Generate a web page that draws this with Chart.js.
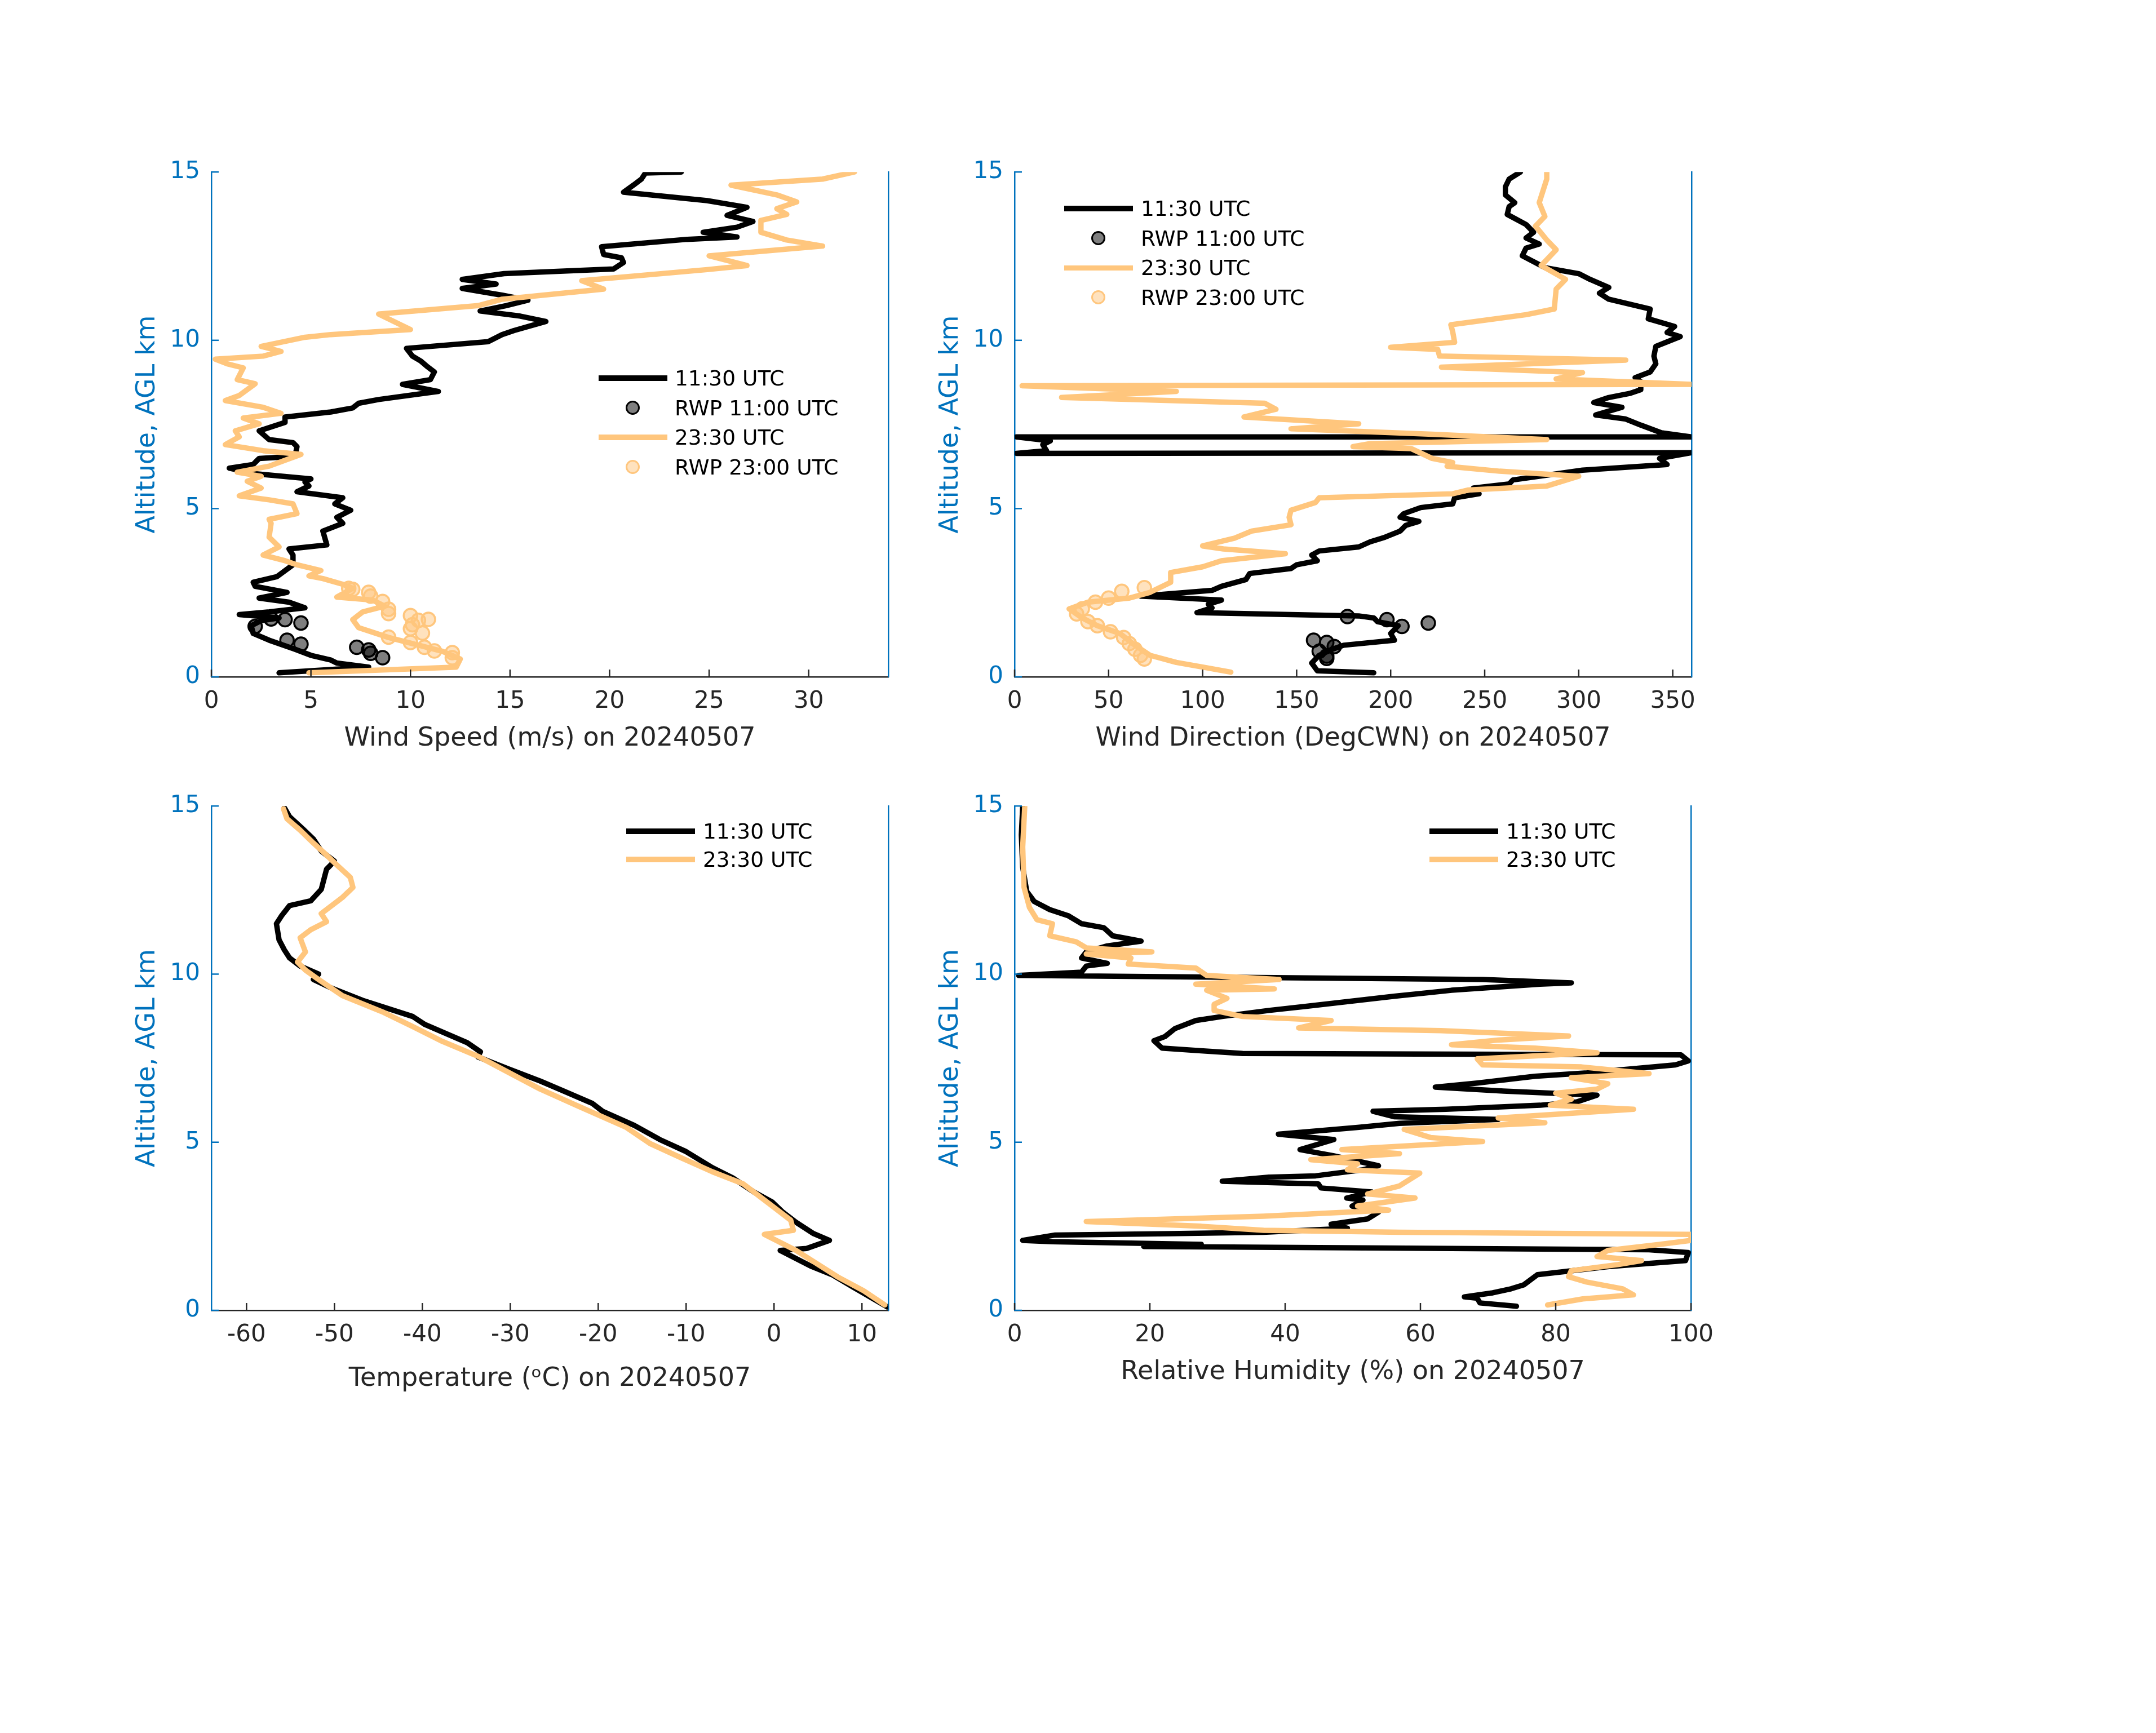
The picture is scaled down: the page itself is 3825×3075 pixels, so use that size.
<!DOCTYPE html>
<html>
<head>
<meta charset="utf-8">
<title>Sounding profiles 20240507</title>
<script src="https://cdn.jsdelivr.net/npm/chart.js@4.4.1/dist/chart.umd.min.js"></script>
<style>
  html, body { margin: 0; padding: 0; background: #fff; }
  #page { position: relative; width: 3825px; height: 3075px; overflow: hidden; font-family: "DejaVu Sans", sans-serif; }
  .panel { position: absolute; }
  .legend { position: absolute; font-size: 37.5px; color: #000; }
  .legend .row { position: absolute; left: 0; height: 50px; white-space: nowrap; }
  .legend .swatch { position: absolute; top: 50%; }
  .legend .text { position: absolute; top: 0; line-height: 50px; }
</style>
</head>
<body>
<div id="page">
  <div class="panel" id="p1"><canvas id="c1"></canvas></div>
  <div class="panel" id="p2"><canvas id="c2"></canvas></div>
  <div class="panel" id="p3"><canvas id="c3"></canvas></div>
  <div class="panel" id="p4"><canvas id="c4"></canvas></div>
</div>
<script>
// ---- tick labels ----
const altTicks = [0, 5, 10, 15];
const wsTicks = [0, 5, 10, 15, 20, 25, 30];
const wdTicks = [0, 50, 100, 150, 200, 250, 300, 350];
const tTicks = [-60, -50, -40, -30, -20, -10, 0, 10];
const rhTicks = [0, 20, 40, 60, 80, 100];

// ---- wind speed (m/s) ----
const wsAlt1130 = [0.12,0.29,0.41,0.50,0.64,0.82,1.09,1.29,1.52,1.67,
  1.75,1.85,1.93,2.05,2.22,2.34,2.51,2.69,2.81,2.98,
  3.33,3.62,3.80,3.92,4.33,4.56,4.74,4.95,5.14,5.32,
  5.50,5.67,5.79,5.88,6.04,6.20,6.31,6.49,6.55,6.84,
  6.96,7.05,7.31,7.56,7.72,7.87,7.99,8.13,8.24,8.48,
  8.69,8.83,9.06,9.24,9.39,9.53,9.76,9.96,10.17,10.29,
  10.56,10.72,10.87,11.03,11.19,11.34,11.54,11.67,11.81,11.98,
  12.12,12.31,12.45,12.55,12.78,13.00,13.07,13.21,13.36,13.53,
  13.71,13.95,14.15,14.40,14.61,14.79,14.97,15.00];
const ws1130 = [3.4,7.9,6.3,6.0,5.0,4.2,2.9,2.1,2.0,2.5,
  3.4,1.4,2.9,4.7,3.9,2.4,3.8,2.2,2.1,3.3,
  4.1,4.1,3.9,5.8,5.6,6.6,6.3,7.0,6.2,6.6,
  4.3,4.9,4.7,5.0,2.1,0.9,2.1,2.4,4.2,4.3,
  4.1,2.9,2.4,3.7,3.7,6.0,7.1,7.4,8.4,11.4,
  9.6,11.0,11.2,10.8,10.5,10.1,9.8,13.9,14.6,15.2,
  16.8,15.5,13.5,14.8,15.9,14.6,12.6,14.3,12.6,14.7,
  20.2,20.7,20.6,19.7,19.6,23.9,26.4,24.7,26.4,27.2,
  25.9,26.9,24.9,20.7,21.2,21.6,21.8,23.6];
const rwpWsAlt1100 = [1.50,1.72,1.70,1.60,1.09,0.97,0.88,0.80,0.70,0.57];
const rwpWs1100 = [2.2,3.0,3.7,4.5,3.8,4.5,7.3,7.9,8.0,8.6];
const wsAlt2330 = [0.12,0.29,0.53,0.76,0.88,1.17,1.46,1.70,1.93,2.10,
  2.28,2.37,2.63,2.75,2.92,3.00,3.16,3.33,3.45,3.62,
  3.86,4.15,4.56,4.68,4.85,5.14,5.26,5.38,5.61,5.81,
  5.96,6.08,6.26,6.61,6.72,6.90,7.13,7.31,7.52,7.69,
  7.83,8.01,8.21,8.36,8.71,8.83,9.18,9.30,9.44,9.53,
  9.67,9.82,10.09,10.17,10.32,10.52,10.78,11.03,11.22,11.52,
  11.77,12.10,12.22,12.51,12.80,12.98,13.21,13.56,13.74,13.91,
  14.11,14.32,14.61,14.79,15.00];
const ws2330 = [4.9,12.3,12.5,11.6,10.8,8.9,7.4,7.1,7.6,8.7,
  8.1,6.3,7.1,6.6,5.6,4.9,5.5,4.3,3.7,2.6,
  3.4,2.9,3.0,2.9,4.3,4.1,2.9,1.4,2.5,1.8,
  2.5,1.3,2.9,4.5,2.6,0.7,1.4,1.2,2.4,1.6,
  3.5,2.6,0.7,1.4,2.2,1.3,1.6,0.8,0.2,2.6,
  3.5,2.5,4.7,6.0,10.0,9.3,8.4,13.4,14.6,19.7,
  18.6,24.9,26.9,25.0,30.7,28.9,27.6,27.6,28.9,28.4,
  29.4,28.4,26.1,30.7,32.3];
const rwpWsAlt2300 = [2.63,2.60,2.51,2.40,2.24,2.01,1.88,1.82,1.71,1.68,
  1.55,1.43,1.30,1.18,1.02,0.88,0.77,0.72,0.57];
const rwpWs2300 = [6.9,7.1,7.9,8.0,8.6,8.9,8.9,10.0,10.9,10.4,
  10.1,10.0,10.6,8.9,10.0,10.7,11.2,12.1,12.1];

// ---- wind direction (deg) ----
const wdAlt1130 = [0.12,0.18,0.41,0.64,0.82,0.94,1.09,1.29,1.52,1.64,
  1.75,1.81,1.91,2.05,2.16,2.28,2.40,2.57,2.69,2.89,
  3.07,3.22,3.33,3.45,3.62,3.74,3.86,4.01,4.15,4.33,
  4.50,4.62,4.74,4.85,5.03,5.14,5.32,5.44,5.61,5.73,
  5.85,6.14,6.31,6.49,6.66,6.64,6.72,6.90,7.01,7.13,
  7.13,7.25,7.48,7.66,7.78,8.01,8.15,8.30,8.42,8.53,
  8.77,8.89,9.06,9.30,9.53,9.82,10.11,10.23,10.41,10.64,
  10.93,11.22,11.40,11.57,11.81,11.98,12.16,12.51,12.74,12.86,
  13.04,13.21,13.44,13.74,13.97,14.09,14.32,14.56,14.79,15.00];
const wd1130 = [191,161,158,162,169,175,202,200,204,193,
  191,183,97,105,103,110,67,105,110,123,
  125,147,150,161,158,162,183,189,197,205,
  208,215,205,207,216,233,234,247,244,263,
  265,302,347,343,360,1,17,15,19,1,
  360,344,333,325,309,323,308,316,327,333,
  333,330,338,341,340,341,354,347,351,337,
  338,316,311,316,306,300,282,270,272,279,
  272,276,272,262,263,266,261,261,263,269];
const rwpWdAlt1100 = [1.79,1.70,1.50,1.60,1.09,1.02,0.90,0.76,0.62,0.55];
const rwpWd1100 = [177,198,206,220,159,166,170,162,166,166];
const wdAlt2330 = [0.14,0.29,0.43,0.64,0.94,1.29,1.52,1.75,2.02,2.22,
  2.34,2.51,2.81,3.10,3.27,3.45,3.66,3.80,3.89,4.12,
  4.33,4.52,4.74,4.95,5.18,5.32,5.44,5.55,5.67,5.96,
  6.11,6.26,6.37,6.49,6.78,6.84,6.93,7.05,7.21,7.37,
  7.52,7.72,7.95,8.13,8.30,8.48,8.65,8.69,8.85,9.04,
  9.20,9.41,9.53,9.73,9.79,9.94,10.25,10.46,10.76,10.93,
  11.52,11.81,12.22,12.69,12.98,13.39,13.68,14.09,14.79,15.00];
const wd2330 = [115,100,86,72,64,56,44,36,29,39,
  61,72,83,83,100,110,144,111,100,117,
  126,147,146,147,160,162,233,241,283,300,
  258,230,233,222,211,180,189,283,222,147,
  183,122,139,133,25,86,4,360,288,302,
  227,325,226,225,200,234,233,232,272,287,
  288,293,280,288,283,277,282,279,283,283];
const rwpWdAlt2300 = [2.65,2.54,2.34,2.22,2.02,1.87,1.64,1.52,1.34,1.17,0.99,0.82,0.64,0.53];
const rwpWd2300 = [69,57,50,43,36,33,39,44,51,58,61,64,67,69];

// ---- temperature (C) ----
const tAlt1130 = [0.10,0.69,1.06,1.30,1.78,1.84,2.08,2.28,2.62,2.92,
  3.22,3.52,3.94,4.24,4.72,5.08,5.50,5.92,6.16,6.52,
  6.82,7.18,7.54,7.69,7.96,8.50,8.74,9.22,9.58,9.84,
  10.00,10.24,10.48,10.72,11.02,11.50,11.74,12.04,12.18,12.52,
  12.82,13.12,13.36,13.66,14.02,14.32,14.68,14.95];
const t1130 = [12.9,9.0,6.6,4.3,0.7,3.7,6.3,4.5,2.5,1.0,
  -0.2,-2.3,-4.7,-7.0,-10.0,-13.0,-15.9,-19.5,-20.7,-23.9,
  -26.6,-30.2,-33.7,-33.4,-34.9,-39.7,-41.1,-46.8,-50.3,-52.4,
  -51.8,-53.9,-55.1,-55.7,-56.3,-56.6,-56.0,-55.1,-52.7,-51.5,
  -51.2,-50.9,-50.0,-51.5,-52.4,-53.6,-55.1,-55.7];
const tAlt2330 = [0.16,0.58,1.00,1.78,2.26,2.38,2.68,3.10,3.76,4.12,
  4.54,4.96,5.44,6.10,6.58,7.56,8.02,8.44,8.86,9.36,
  9.84,10.12,10.36,10.66,11.08,11.32,11.56,11.80,12.28,12.58,
  12.88,13.24,13.54,13.90,14.28,14.62,14.92];
const t2330 = [12.6,10.2,7.2,2.5,-1.1,2.2,1.9,-0.2,-3.5,-7.0,
  -10.6,-14.1,-16.8,-22.5,-26.6,-33.7,-37.9,-41.1,-44.4,-49.1,
  -51.8,-53.3,-54.2,-53.3,-53.9,-52.7,-50.9,-51.5,-49.1,-47.9,
  -48.2,-49.7,-50.9,-52.4,-53.9,-55.4,-55.8];

// ---- relative humidity (%) ----
const rhAlt1130 = [0.12,0.22,0.36,0.40,0.52,0.64,0.76,1.06,1.30,1.48,
  1.72,1.80,1.90,1.96,2.04,2.08,2.24,2.28,2.32,2.44,
  2.56,2.72,2.92,3.10,3.28,3.34,3.52,3.64,3.76,3.84,
  3.96,4.00,4.18,4.30,4.60,4.78,5.08,5.24,5.44,5.56,
  5.68,5.76,5.92,5.98,6.10,6.20,6.40,6.52,6.64,6.76,
  6.96,7.06,7.30,7.42,7.60,7.64,7.72,7.80,8.02,8.14,
  8.38,8.62,8.74,8.92,9.04,9.34,9.52,9.70,9.74,9.84,
  9.96,10.06,10.24,10.32,10.48,10.66,10.84,10.98,11.14,11.38,
  11.50,11.74,11.92,12.16,12.46,13.18,14.14,14.98];
const rh1130 = [74.2,68.8,68.4,66.5,70.7,73.4,75.3,77.3,87.7,99.2,
  99.6,93.8,19.1,27.6,5.6,1.2,6.0,23.0,36.8,49.2,
  46.8,52.2,53.8,49.9,51.5,49.1,52.8,45.3,44.9,30.7,
  37.6,44.5,51.5,53.8,47.1,42.2,47.2,39.0,50.7,56.9,
  71.5,56.1,53.0,63.8,77.7,83.1,86.1,72.3,62.2,68.4,
  76.9,84.6,97.7,99.6,98.5,33.7,27.6,21.8,20.6,22.2,
  23.7,26.8,30.7,37.6,43.0,56.1,64.6,77.7,82.3,69.2,
  0.6,9.9,10.6,13.7,9.9,10.6,13.7,18.7,14.5,13.2,
  9.9,7.9,5.2,2.9,1.8,1.2,1.0,1.2];
const rhAlt2330 = [0.16,0.34,0.46,0.64,0.84,1.00,1.18,1.36,1.48,1.60,
  1.78,1.96,2.08,2.26,2.32,2.38,2.50,2.64,2.80,2.98,
  3.10,3.34,3.46,3.70,4.08,4.18,4.36,4.48,4.66,4.78,
  5.02,5.14,5.38,5.58,5.72,5.98,6.10,6.28,6.46,6.58,
  6.74,6.92,7.04,7.24,7.30,7.48,7.66,7.80,7.90,8.04,
  8.16,8.32,8.40,8.62,8.74,8.92,9.10,9.28,9.52,9.56,
  9.70,9.84,9.96,10.18,10.30,10.48,10.60,10.66,10.78,10.96,
  11.14,11.50,11.62,11.98,12.58,13.78,14.98];
const rh2330 = [78.8,84.0,91.5,89.9,84.6,81.9,82.3,89.2,92.7,86.1,
  87.7,95.4,100,100,56.9,36.8,27.6,10.6,36.8,55.3,
  50.7,59.2,52.2,56.9,59.9,49.2,50.7,43.8,56.9,48.4,
  69.2,61.5,57.6,78.4,71.5,91.5,79.2,82.3,80.0,86.1,
  87.7,82.3,93.8,83.8,69.2,68.4,86.1,76.9,64.6,71.5,
  81.9,63.0,42.0,46.8,33.7,29.5,29.5,31.4,28.4,38.4,
  26.8,39.1,28.4,26.8,16.8,17.2,10.6,20.3,10.6,9.1,
  5.2,5.6,3.3,2.2,1.4,1.2,1.5];

// ---- styling ----
const FONT = '"DejaVu Sans", sans-serif';
const BLUE = '#0072BD';
const GREY = '#262626';
const BLACK = '#000000';
const ORANGE = 'rgb(255,198,125)';
const ORANGE_FILL = 'rgba(255,198,125,0.5)';
const BLACK_FILL = 'rgba(0,0,0,0.5)';

const pts = (vals, alts) => vals.map((v, i) => ({ x: v, y: alts[i] }));

function lineSet(label, vals, alts, color, order) {
  return {
    label, order, data: pts(vals, alts), showLine: true,
    borderColor: color, backgroundColor: color, borderWidth: 9.5,
    pointRadius: 0, pointHoverRadius: 0, tension: 0,
    borderJoinStyle: 'round', borderCapStyle: 'round'
  };
}

function markerSet(label, vals, alts, edge, fill, order) {
  return {
    label, order, data: pts(vals, alts), showLine: false,
    pointRadius: 12, pointHoverRadius: 12, pointBorderWidth: 3.5,
    pointBorderColor: edge, pointBackgroundColor: fill,
    borderColor: edge, backgroundColor: fill
  };
}

// MATLAB style ticks pointing into the axes
const inwardTicks = {
  id: 'inwardTicks',
  afterDatasetsDraw(chart) {
    const { ctx, chartArea, scales } = chart;
    ctx.save();
    ctx.lineWidth = 2.5;
    ctx.strokeStyle = GREY;
    scales.x.ticks.forEach(t => {
      const px = scales.x.getPixelForValue(t.value);
      ctx.beginPath();
      ctx.moveTo(px, chartArea.bottom);
      ctx.lineTo(px, chartArea.bottom - 13);
      ctx.stroke();
    });
    ctx.strokeStyle = BLUE;
    scales.y.ticks.forEach(t => {
      const py = scales.y.getPixelForValue(t.value);
      ctx.beginPath();
      ctx.moveTo(chartArea.left, py);
      ctx.lineTo(chartArea.left + 13, py);
      ctx.stroke();
    });
    ctx.restore();
  }
};

const PAD_L = 220, PAD_T = 40, PAD_R = 60, PAD_B = 160;

function makePanel(num, box, xMin, xMax, xTicks, xTitle, titleGap, datasets) {
  const div = document.getElementById('p' + num);
  const canvas = document.getElementById('c' + num);
  const w = PAD_L + box.w + PAD_R, h = PAD_T + box.h + PAD_B;
  div.style.left = (box.left - PAD_L) + 'px';
  div.style.top = (box.top - PAD_T) + 'px';
  canvas.width = w; canvas.height = h;
  canvas.style.width = w + 'px'; canvas.style.height = h + 'px';

  return new Chart(canvas.getContext('2d'), {
    type: 'scatter',
    data: { datasets },
    options: {
      responsive: false,
      animation: false,
      devicePixelRatio: 1,
      layout: { padding: { top: PAD_T, right: PAD_R, bottom: 0, left: 0 } },
      plugins: { legend: { display: false }, tooltip: { enabled: false } },
      scales: {
        x: {
          type: 'linear', position: 'bottom', min: xMin, max: xMax,
          afterBuildTicks: s => { s.ticks = xTicks.map(v => ({ value: v })); },
          afterFit: s => { s.height = PAD_B; },
          grid: { display: false, drawTicks: false },
          border: { display: true, color: GREY, width: 2.5 },
          ticks: { color: GREY, font: { family: FONT, size: 42 }, padding: 19,
                   autoSkip: false, maxRotation: 0, callback: v => String(v) },
          title: { display: true, text: xTitle, color: GREY,
                   font: { family: FONT, size: 46 }, padding: { top: 0, bottom: titleGap } }
        },
        y: {
          type: 'linear', position: 'left', min: 0, max: 15,
          afterBuildTicks: s => { s.ticks = altTicks.map(v => ({ value: v })); },
          afterFit: s => { s.width = PAD_L; },
          grid: { display: false, drawTicks: false },
          border: { display: true, color: BLUE, width: 2.5 },
          ticks: { color: BLUE, font: { family: FONT, size: 42 }, padding: 20,
                   callback: v => String(v) },
          title: { display: true, text: 'Altitude, AGL km', color: BLUE,
                   font: { family: FONT, size: 46 }, padding: { top: 79, bottom: 0 } }
        },
        y2: {
          type: 'linear', position: 'right', min: 0, max: 15,
          afterFit: s => { s.width = 0; },
          grid: { display: false, drawTicks: false },
          border: { display: true, color: BLUE, width: 2.5 },
          ticks: { display: false }
        }
      }
    },
    plugins: [inwardTicks]
  });
}

function makeLegend(left, top, gap, textLeft, chart) {
  const box = document.createElement('div');
  box.className = 'legend';
  box.style.left = left + 'px';
  box.style.top = top + 'px';
  chart.data.datasets.forEach((ds, i) => {
    const row = document.createElement('div');
    row.className = 'row';
    row.style.top = (i * gap - 25) + 'px';
    const sw = document.createElement('div');
    sw.className = 'swatch';
    if (ds.showLine) {
      sw.style.left = '0px'; sw.style.width = '122px'; sw.style.height = '9.5px';
      sw.style.marginTop = '-4.75px'; sw.style.background = ds.borderColor;
    } else {
      sw.style.left = (61 - 13) + 'px'; sw.style.width = '19px'; sw.style.height = '19px';
      sw.style.marginTop = '-13px'; sw.style.borderRadius = '50%';
      sw.style.border = '3.5px solid ' + ds.pointBorderColor;
      sw.style.background = ds.pointBackgroundColor;
    }
    const tx = document.createElement('div');
    tx.className = 'text';
    tx.style.left = textLeft + 'px';
    tx.textContent = ds.label;
    row.appendChild(sw); row.appendChild(tx);
    box.appendChild(row);
  });
  document.getElementById('page').appendChild(box);
}

const c1 = makePanel(1, { left: 375, top: 300, w: 1201, h: 901 }, 0, 34, wsTicks,
  'Wind Speed (m/s) on 20240507', 22, [
    lineSet('11:30 UTC', ws1130, wsAlt1130, BLACK, 4),
    markerSet('RWP 11:00 UTC', rwpWs1100, rwpWsAlt1100, BLACK, BLACK_FILL, 3),
    lineSet('23:30 UTC', ws2330, wsAlt2330, ORANGE, 2),
    markerSet('RWP 23:00 UTC', rwpWs2300, rwpWsAlt2300, ORANGE, ORANGE_FILL, 1)
  ]);

const c2 = makePanel(2, { left: 1800, top: 300, w: 1201, h: 901 }, 0, 360, wdTicks,
  'Wind Direction (DegCWN) on 20240507', 22, [
    lineSet('11:30 UTC', wd1130, wdAlt1130, BLACK, 4),
    markerSet('RWP 11:00 UTC', rwpWd1100, rwpWdAlt1100, BLACK, BLACK_FILL, 3),
    lineSet('23:30 UTC', wd2330, wdAlt2330, ORANGE, 2),
    markerSet('RWP 23:00 UTC', rwpWd2300, rwpWdAlt2300, ORANGE, ORANGE_FILL, 1)
  ]);

const c3 = makePanel(3, { left: 375, top: 1425, w: 1201, h: 900 }, -64, 13, tTicks,
  'Temperature (\u1D52C) on 20240507', 10, [
    lineSet('11:30 UTC', t1130, tAlt1130, BLACK, 2),
    lineSet('23:30 UTC', t2330, tAlt2330, ORANGE, 1)
  ]);

const c4 = makePanel(4, { left: 1800, top: 1425, w: 1200, h: 900 }, 0, 100, rhTicks,
  'Relative Humidity (%) on 20240507', 22, [
    lineSet('11:30 UTC', rh1130, rhAlt1130, BLACK, 2),
    lineSet('23:30 UTC', rh2330, rhAlt2330, ORANGE, 1)
  ]);

makeLegend(1062, 671, 52.5, 135, c1);
makeLegend(1888, 370, 52.7, 136, c2);
makeLegend(1111, 1475, 50, 136, c3);
makeLegend(2536, 1475, 50, 136, c4);
</script>
</body>
</html>
